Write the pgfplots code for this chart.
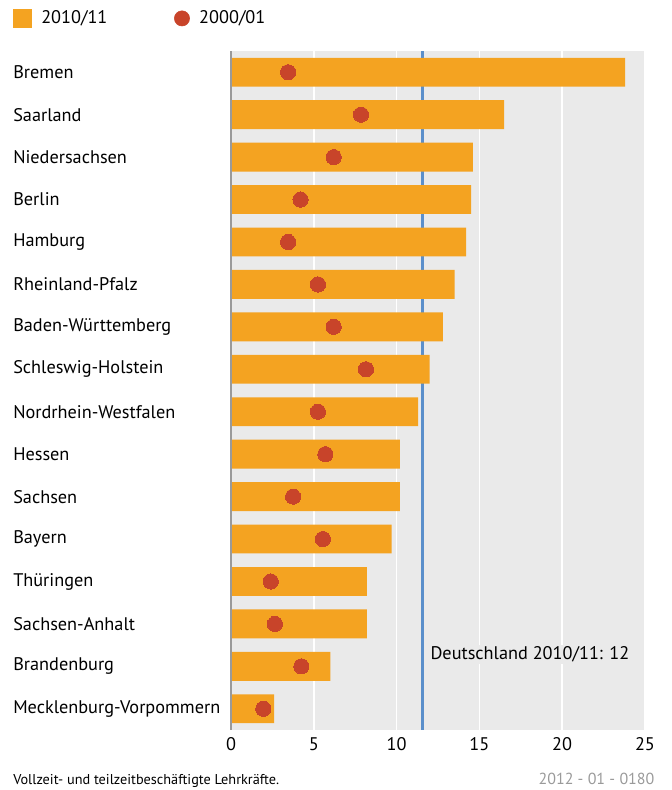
\documentclass[border=0pt]{standalone}
\usepackage{pgfplots}
\pgfplotsset{compat=1.18}
\usepackage{fontspec}
\setmainfont{PT Sans}
\definecolor{barorange}{HTML}{F4A321}
\definecolor{dotred}{HTML}{C8442A}
\definecolor{bggrey}{HTML}{EAEAEA}
\definecolor{lineblue}{HTML}{5B8FCB}
\definecolor{axisgrey}{HTML}{9A9A9A}
\definecolor{codegrey}{HTML}{9A9A9A}
\begin{document}
\begin{tikzpicture}
\path (0pt,0pt) rectangle (504pt,-592.5pt);
\begin{axis}[
  at={(173.25pt,-547.5pt)}, anchor=south west,
  scale only axis, width=310.5pt, height=509.25pt,
  xmin=0, xmax=25, ymin=-0.5, ymax=15.5, y dir=reverse,
  axis background/.style={fill=bggrey},
  axis line style={draw=none},
  xtick={0,5,10,15,20,25},
  xmajorgrids, grid style={white, line width=1.3pt},
  ytick={0,...,15},
  yticklabels={Bremen,Saarland,Niedersachsen,Berlin,Hamburg,Rheinland-Pfalz,Baden-Württemberg,Schleswig-Holstein,Nordrhein-Westfalen,Hessen,Sachsen,Bayern,Thüringen,Sachsen-Anhalt,Brandenburg,Mecklenburg-Vorpommern},
  tick style={draw=none},
  /pgf/number format/assume math mode=true,
  yticklabel style={anchor=west, xshift=-163.5pt, inner sep=0pt, font=\fontsize{13.7}{15}\selectfont},
  xticklabel style={font=\fontsize{13.7}{15}\selectfont, inner sep=0pt, yshift=-5.5pt},
  legend columns=2,
  legend style={draw=none, fill=none, inner sep=0pt, outer sep=0pt,
    at={(axis description cs:-0.5266,1.063)}, anchor=north west,
    font=\fontsize{13.7}{15}\selectfont,
    /tikz/every odd column/.append style={column sep=5pt},
    /tikz/every even column/.append style={column sep=48pt}},
  clip=false,
]
\addplot[lineblue, line width=2.3pt, forget plot] coordinates {(11.55,-0.5) (11.55,15.5)};
\addplot[xbar, bar width=0.68, bar shift=0pt, fill=barorange, draw=none,
  legend image code/.code={\fill[barorange] (0pt,-7.1pt) rectangle (14.2pt,7.1pt);}]
  coordinates {(23.8,0) (16.5,1) (14.6,2) (14.5,3) (14.2,4) (13.5,5) (12.8,6) (12.0,7)
               (11.3,8) (10.2,9) (10.2,10) (9.7,11) (8.2,12) (8.2,13) (6.0,14) (2.6,15)};
\addlegendentry{2010/11}
\draw[axisgrey, line width=1.5pt] (axis cs:0,-0.5) -- (axis cs:0,15.5);
\addplot[only marks, color=dotred, mark=*, mark size=5.7pt, mark options={fill=dotred, draw=dotred, line width=0pt},
  legend image code/.code={\fill[dotred] (5.7pt,0pt) circle (5.7pt);}]
  coordinates {(3.45,0) (7.85,1) (6.2,2) (4.2,3) (3.45,4) (5.25,5) (6.2,6) (8.15,7)
               (5.25,8) (5.7,9) (3.75,10) (5.55,11) (2.4,12) (2.65,13) (4.25,14) (1.95,15)};
\addlegendentry{2000/01}
\node[anchor=west, fill=bggrey, inner sep=1.5pt, xshift=4.5pt,
  font=\fontsize{13.7}{15}\selectfont] at (axis cs:11.55,13.72) {Deutschland 2010/11: 12};
\end{axis}
\node[anchor=base west, inner sep=0pt, font=\fontsize{10.7}{12}\selectfont] at (9.75pt,-588pt) {Vollzeit- und teilzeitbeschäftigte Lehrkräfte.};
\node[anchor=base east, inner sep=0pt, text=codegrey, font=\fontsize{12}{13}\selectfont] at (491pt,-588.5pt) {2012 - 01 - 0180};
\end{tikzpicture}
\end{document}
